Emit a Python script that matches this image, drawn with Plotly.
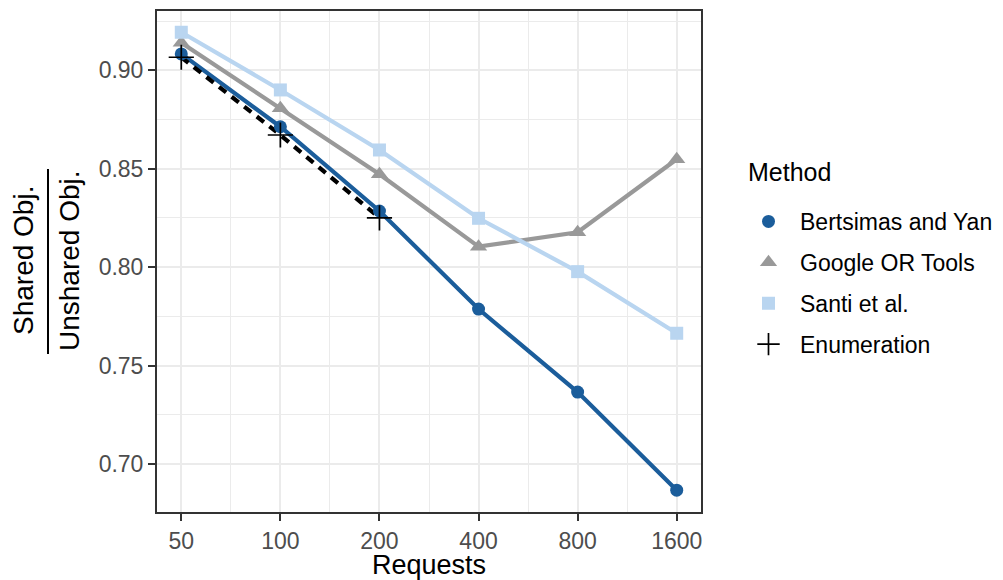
import plotly.graph_objects as go

requests = [50, 100, 200, 400, 800, 1600]
bertsimas = [0.9083, 0.8713, 0.8285, 0.7787, 0.7365, 0.6867]
google = [0.9140, 0.8807, 0.8472, 0.8104, 0.8177, 0.8548]
santi = [0.9193, 0.8900, 0.8595, 0.8248, 0.7977, 0.7664]
enum_x = [50, 100, 200]
enumeration = [0.9066, 0.8671, 0.8250]

x_ticks = [50, 100, 200, 400, 800, 1600]
x_tick_text = ["50", "100", "200", "400", "800", "1600"]
x_minor = [70.71, 141.42, 282.84, 565.69, 1131.37]
y_ticks = [0.70, 0.75, 0.80, 0.85, 0.90]
y_tick_text = ["0.70", "0.75", "0.80", "0.85", "0.90"]
y_minor = [0.675, 0.725, 0.775, 0.825, 0.875, 0.925]

C_BLUE = "#1B5D9B"
C_GRAY = "#999999"
C_LIGHT = "#B9D5F0"
FONT = "Liberation Sans, Arial, Helvetica, sans-serif"

series = [
    ("Bertsimas and Yan", requests, bertsimas, C_BLUE, "circle", "solid"),
    ("Google OR Tools", requests, google, C_GRAY, "triangle-up", "solid"),
    ("Santi et al.", requests, santi, C_LIGHT, "square", "solid"),
    ("Enumeration", enum_x, enumeration, "#000000", "cross-thin", "9px,7px"),
]

fig = go.Figure()
for name, xs, ys, col, sym, dash in series:
    fig.add_trace(go.Scatter(x=xs, y=ys, mode="lines", showlegend=False,
                             line=dict(color=col, width=4.2, dash=dash),
                             hoverinfo="skip"))
for i, (name, xs, ys, col, sym, dash) in enumerate(series):
    if sym == "cross-thin":
        mk = dict(symbol=sym, size=18, color=col, line=dict(color=col, width=1.7))
    elif sym == "triangle-up":
        mk = dict(symbol=sym, size=15, color=col, line=dict(width=0))
    elif sym == "square":
        mk = dict(symbol=sym, size=13, color=col, line=dict(width=0))
    else:
        mk = dict(symbol=sym, size=13, color=col, line=dict(width=0))
    fig.add_trace(go.Scatter(x=xs, y=ys, mode="markers", name=name,
                             legendgroup=name, marker=mk))

# screen coordinates of the panel (page body has an 8px margin)
OFF = 8
L, R, T, B = 157, 701, 11, 512
SW, SH = 1003, 580
W, H = SW - OFF, SH - OFF
pw, ph = R - L, B - T

def px_x(p):
    return (p - L) / pw

def px_y(p):
    return (B - p) / ph

fig.update_layout(
    width=W, height=H,
    margin=dict(l=L - OFF, r=SW - R, t=T - OFF, b=SH - B, pad=0, autoexpand=False),
    paper_bgcolor="white", plot_bgcolor="white",
    font=dict(family=FONT, color="#000000"),
    showlegend=True,
    legend=dict(
        font=dict(size=23, color="#000000"),
        x=px_x(737), xanchor="left", y=px_y(200), yanchor="top",
        itemwidth=53, tracegroupgap=8, bgcolor="rgba(0,0,0,0)",
    ),
    xaxis=dict(
        type="log", range=[1.6252, 3.2779], automargin=False,
        tickmode="array", tickvals=x_ticks, ticktext=x_tick_text,
        tickfont=dict(size=23, color="#4D4D4D"),
        ticks="outside", ticklen=7, tickwidth=2, tickcolor="#333333",
        showgrid=True, gridcolor="#EBEBEB", gridwidth=2,
        minor=dict(tickmode="array", tickvals=x_minor, showgrid=True,
                   gridcolor="#EBEBEB", gridwidth=1, ticklen=0),
        showline=True, linecolor="#333333", linewidth=2, mirror=True,
        zeroline=False,
        title=dict(text="Requests", font=dict(size=27, color="#000000"), standoff=10),
    ),
    yaxis=dict(
        range=[0.6756, 0.9301], automargin=False,
        tickmode="array", tickvals=y_ticks, ticktext=y_tick_text,
        tickfont=dict(size=23, color="#4D4D4D"),
        ticks="outside", ticklen=7, tickwidth=2, tickcolor="#333333",
        showgrid=True, gridcolor="#EBEBEB", gridwidth=2,
        minor=dict(tickmode="array", tickvals=y_minor, showgrid=True,
                   gridcolor="#EBEBEB", gridwidth=1, ticklen=0),
        showline=True, linecolor="#333333", linewidth=2, mirror=True,
        zeroline=False,
    ),
)

fig.add_annotation(text="Method", xref="paper", yref="paper",
                   x=px_x(746), y=px_y(172), showarrow=False,
                   xanchor="left", yanchor="middle",
                   font=dict(size=25, color="#000000", family=FONT))
fig.add_annotation(text="Shared Obj.", xref="paper", yref="paper",
                   x=px_x(23), y=px_y(261), textangle=-90, showarrow=False,
                   xanchor="center", yanchor="middle",
                   font=dict(size=28, color="#000000", family=FONT))
fig.add_annotation(text="Unshared Obj.", xref="paper", yref="paper",
                   x=px_x(69), y=px_y(261), textangle=-90, showarrow=False,
                   xanchor="center", yanchor="middle",
                   font=dict(size=28, color="#000000", family=FONT))
fig.add_shape(type="line", xref="paper", yref="paper",
              x0=px_x(48), x1=px_x(48), y0=px_y(169), y1=px_y(354),
              line=dict(color="#000000", width=2))

fig.write_html("out.html")
